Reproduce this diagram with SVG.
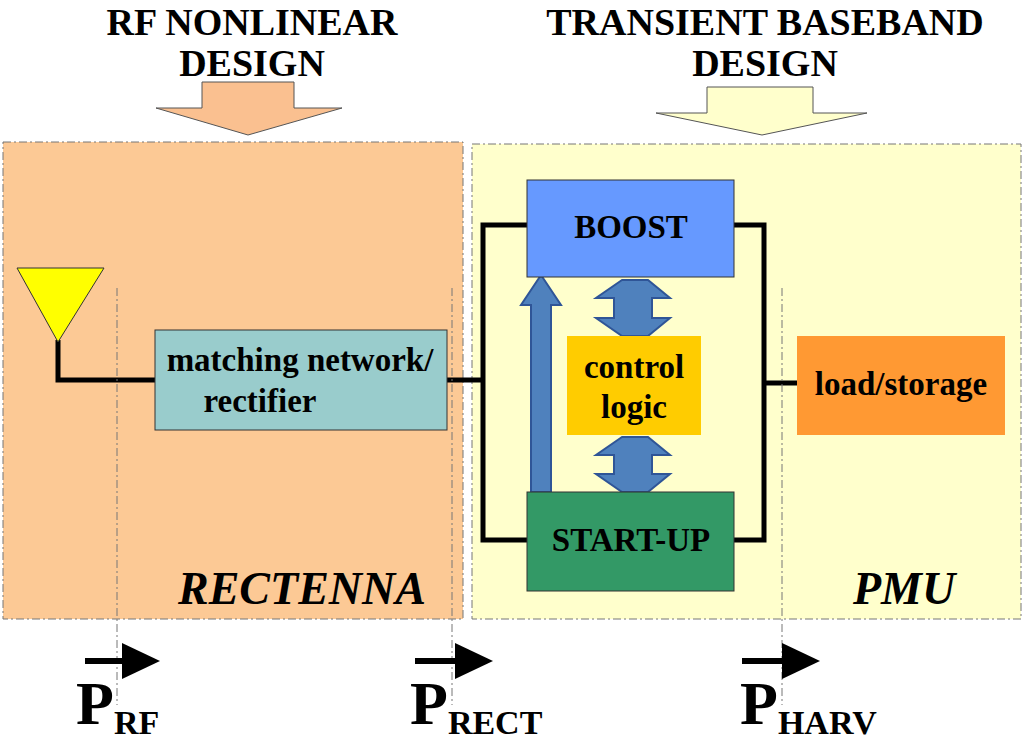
<svg xmlns="http://www.w3.org/2000/svg" width="1024" height="741" viewBox="0 0 1024 741">
<defs>
<style>
text{font-family:"Liberation Serif",serif;font-weight:bold;fill:#000}
.t{font-size:38px;text-anchor:middle}
.n{font-size:33px;text-anchor:middle}
.w{stroke:#000;stroke-width:5;fill:none}
.d{stroke:#777;stroke-width:1;stroke-dasharray:8,3,2,3;fill:none}
.box{stroke:#333;stroke-width:1}
.ba{fill:#4F81BD;stroke:#2F5597;stroke-width:2}
</style>
</defs>
<rect width="1024" height="741" fill="#fff"/>
<g id="regions">
<rect x="3" y="142" width="460" height="477" class="d" style="fill:#FCC995"/>
<rect x="472" y="144" width="549" height="475" class="d" style="fill:#FFFFCC"/>
</g>
<g id="titles">
<text class="t" x="252" y="35">RF NONLINEAR</text>
<text class="t" x="252" y="76">DESIGN</text>
<text class="t" x="765" y="35">TRANSIENT BASEBAND</text>
<text class="t" x="765" y="76">DESIGN</text>
<polygon points="202,82 294,82 294,108 342,108 248,135 156,108 202,108" fill="#FAC090" stroke="#555" stroke-width="1"/>
<polygon points="707,87 813,87 813,113 867,113 762,135 656,113 707,113" fill="#FFFFCC" stroke="#555" stroke-width="1"/>
</g>
<g id="connectors">
<polyline class="w" points="58,340 58,380 155,380"/>
<polyline class="w" points="447,380 483,380"/>
<polyline class="w" points="527,225 483,225 483,540 527,540"/>
<polyline class="w" points="734,225 764,225 764,540 734,540"/>
<line class="w" x1="764" y1="383" x2="797" y2="383"/>
<polygon class="ba" points="531,492 531,305 521,305 541,275 561,305 551,305 551,492"/>
<polygon class="ba" points="622,280 596,298 614,298 614,318 596,318 622,336 648,336 670,318 652,318 652,298 670,298 648,280"/>
<polygon class="ba" points="622,437 596,455 614,455 614,474 596,474 622,492 648,492 670,474 652,474 652,455 670,455 648,437"/>
</g>
<g id="dashes">
<line class="d" x1="117" y1="288" x2="117" y2="705"/>
<line class="d" x1="452" y1="288" x2="452" y2="705"/>
<line class="d" x1="782" y1="288" x2="782" y2="705"/>
</g>
<g id="antenna"><polygon points="17,268 104,268 58,342" fill="#FFFF00" stroke="#333" stroke-width="1"/></g>
<g id="matching"><rect class="box" x="155" y="330" width="292" height="100" fill="#99CCCC"/>
<text class="n" x="300" y="371">matching network/</text><text class="n" x="260" y="412">rectifier</text></g>
<g id="boost"><rect class="box" x="527" y="180" width="207" height="97" fill="#6699FF"/><text class="n" x="631" y="238">BOOST</text></g>
<g id="control"><rect x="567" y="336" width="134" height="99" fill="#FFCC00"/><text class="n" x="634" y="378">control</text><text class="n" x="634" y="418">logic</text></g>
<g id="startup"><rect class="box" x="527" y="492" width="207" height="99" fill="#339966"/><text class="n" x="631" y="551">START-UP</text></g>
<g id="load"><rect x="797" y="336" width="208" height="99" fill="#FF9933"/><text class="n" x="901" y="395">load/storage</text></g>
<g id="labels">
<text x="178" y="604" style="font-size:46px;font-style:italic">RECTENNA</text>
<text x="853" y="604" style="font-size:46px;font-style:italic">PMU</text>
</g>
<g id="power">
<rect x="85" y="658" width="40" height="6"/><polygon points="122,643 160,661 122,679"/>
<rect x="415" y="658" width="42" height="6"/><polygon points="455,643 493,661 455,679"/>
<rect x="742" y="658" width="42" height="6"/><polygon points="782,643 820,661 782,679"/>
<text x="76" y="724" style="font-size:62px">P<tspan dy="10" style="font-size:34px">RF</tspan></text>
<text x="410" y="724" style="font-size:62px">P<tspan dy="10" style="font-size:34px">RECT</tspan></text>
<text x="740" y="724" style="font-size:62px">P<tspan dy="10" style="font-size:34px">HARV</tspan></text>
</g>
</svg>
